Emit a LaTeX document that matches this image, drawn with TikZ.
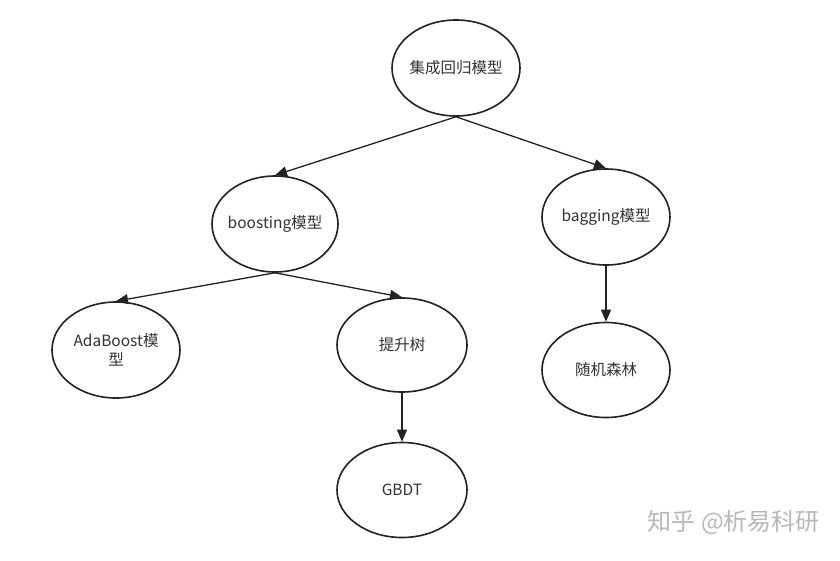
\documentclass[tikz,border=0pt]{standalone}
\usepackage{fontspec}
\setmainfont{Noto Sans CJK SC}
\usetikzlibrary{arrows.meta,shapes.geometric}
\definecolor{ink}{HTML}{222222}
\definecolor{txt}{HTML}{333333}
\definecolor{wm}{HTML}{B8B8B8}
\newcommand{\zb}[1]{\makebox[0pt][c]{#1}}
\begin{document}
\begin{tikzpicture}[x=1pt,y=-1pt,
  ell/.style={draw=ink,line width=1.6pt,ellipse,minimum width=128pt,minimum height=96pt,inner sep=0pt,font=\fontsize{15.5}{19.5}\selectfont,text=txt,align=center},
  conn/.style={draw=ink,line width=1.3pt,-{Triangle[length=12pt,width=10pt]}}]
\useasboundingbox (0,0) rectangle (840,560);
\fill[white] (0,0) rectangle (840,560);
\node[ell] (root) at (456,68) {\zb{集成回归模型}};
\node[ell,minimum width=126pt] (boost) at (275,224) {\zb{boosting模型}};
\node[ell] (bag) at (606,217) {\zb{bagging模型}};
\node[ell] (ada) at (116,350) {\zb{AdaBoost模}\\\zb{型}};
\node[ell,minimum width=130pt,minimum height=94pt] (tree) at (402,345) {\zb{提升树}};
\node[ell,minimum width=130pt,minimum height=95pt] (gbdt) at (402,490) {\zb{GBDT}};
\node[ell,minimum height=95pt] (rf) at (606,370) {\zb{随机森林}};
\draw[conn] (root.south) -- (boost.north);
\draw[conn] (root.south) -- (bag.north);
\draw[conn] (boost.south) -- (ada.north);
\draw[conn] (boost.south) -- (tree.north);
\draw[conn] (tree.south) -- (gbdt.north);
\draw[conn] (bag.south) -- (rf.north);
\node[text=wm,font=\fontsize{24}{28}\selectfont,anchor=east,inner sep=0pt] (wmark) at (820,522) {知乎 @析易科研};
\end{tikzpicture}
\end{document}
